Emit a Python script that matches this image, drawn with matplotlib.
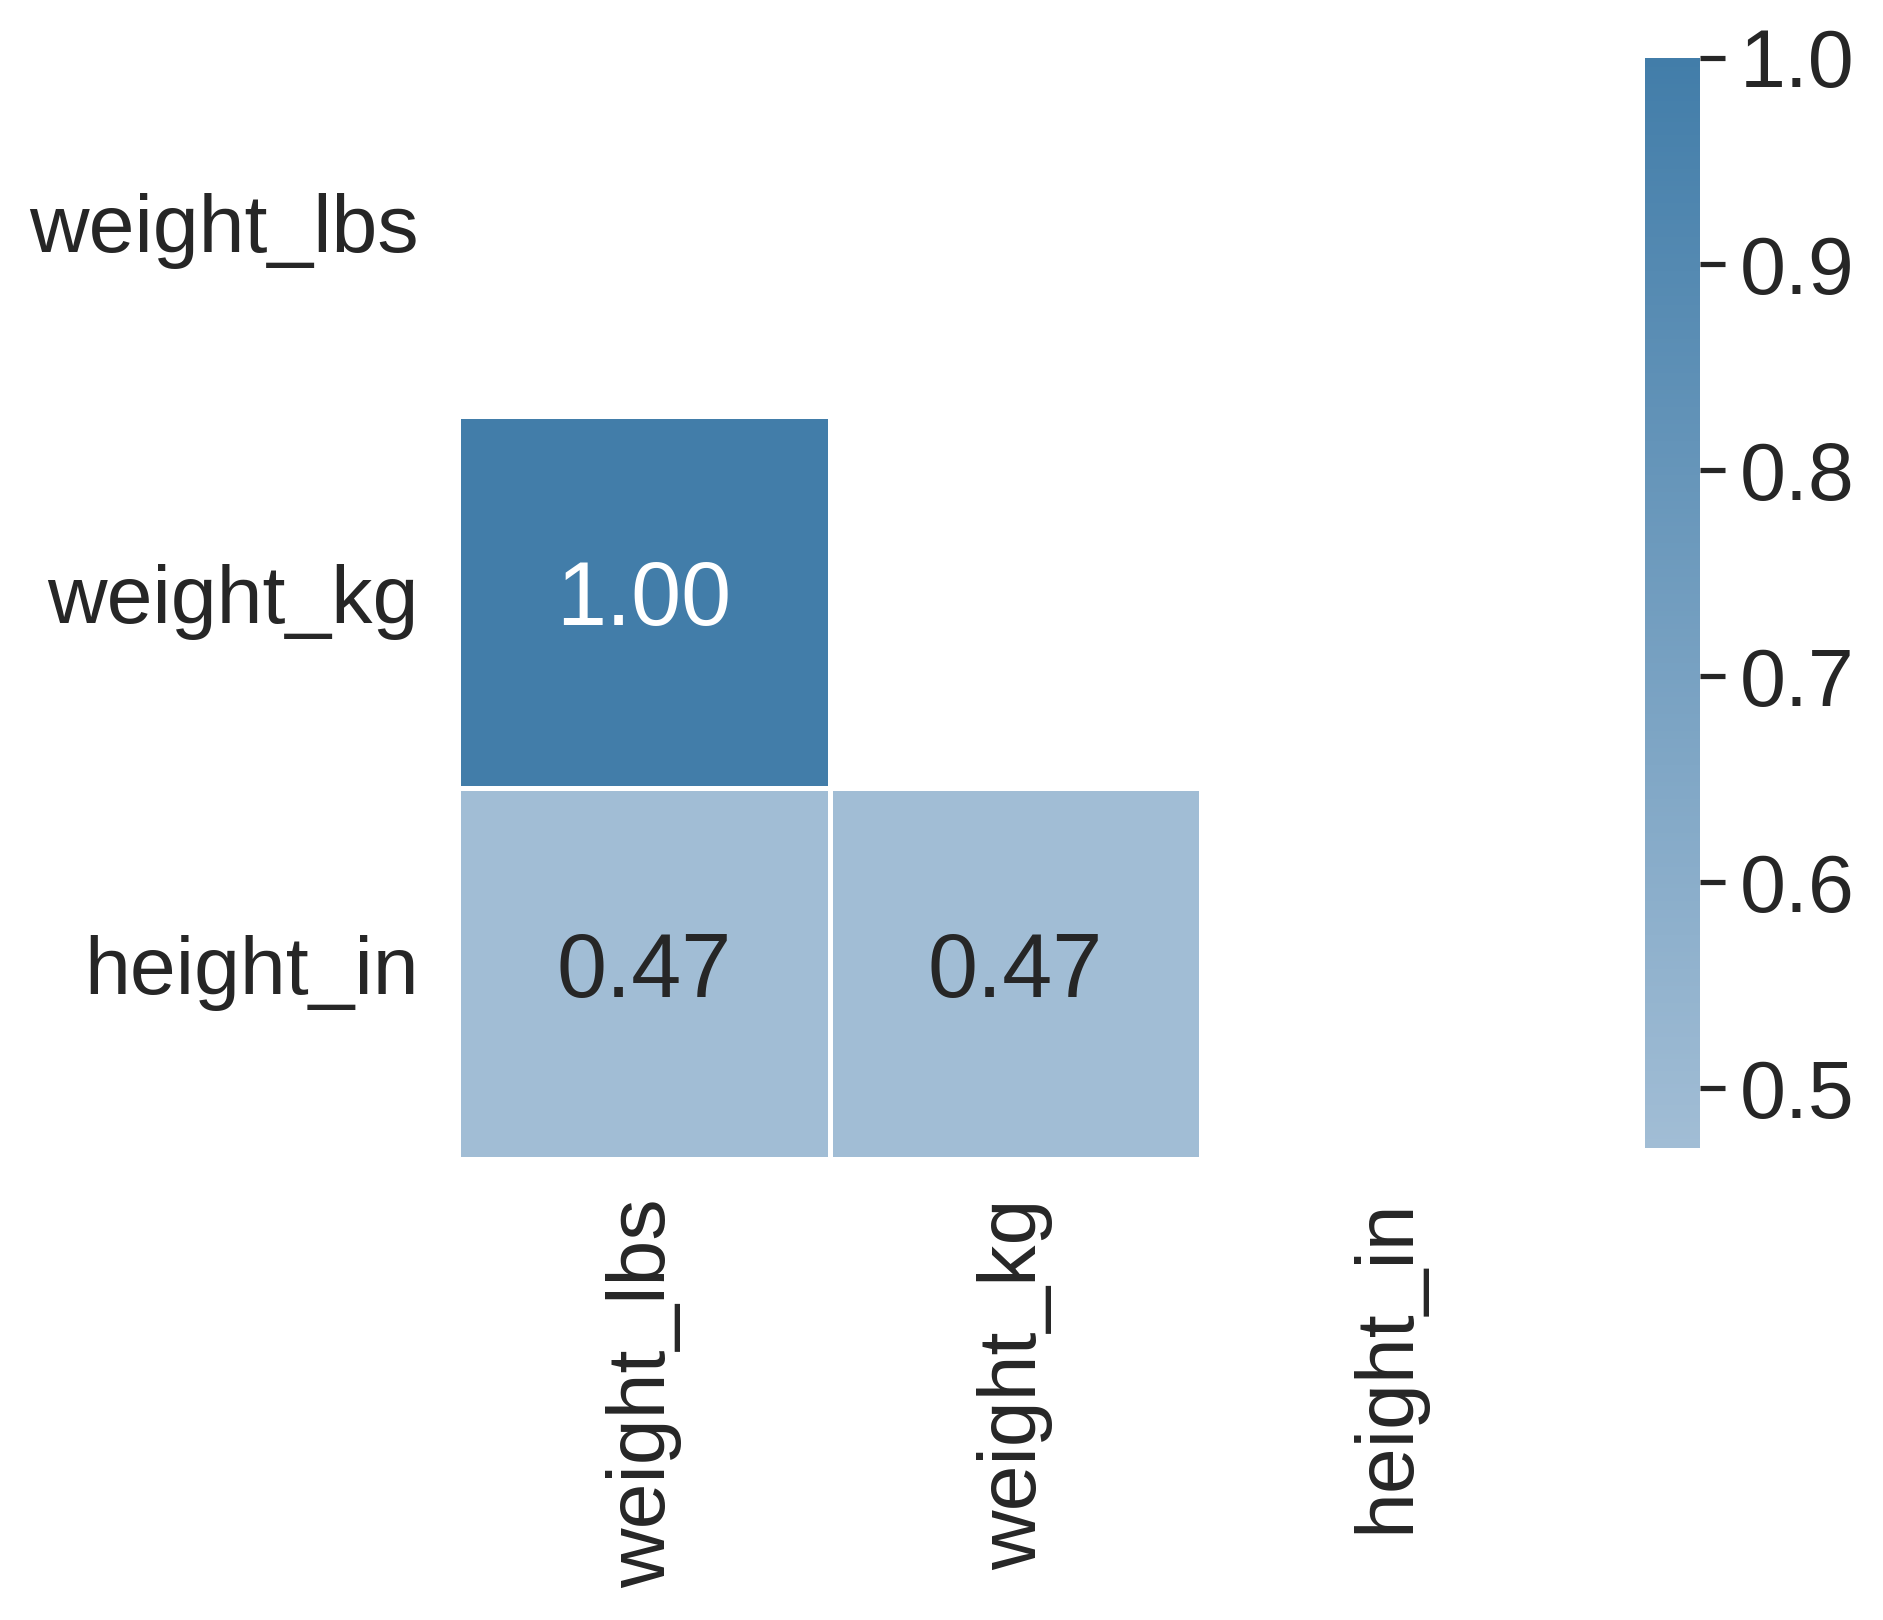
import numpy as np
import matplotlib
matplotlib.use("Agg")
import matplotlib.pyplot as plt
import seaborn as sns
from matplotlib.colors import LinearSegmentedColormap

# column names and their correlations
columns = ["weight_lbs", "weight_kg", "height_in"]
corr_values = [
    [1.000, 1.000, 0.471],
    [1.000, 1.000, 0.471],
    [0.471, 0.471, 1.000],
]
cbar_ticks = [0.5, 0.6, 0.7, 0.8, 0.9, 1.0]

sns.set(style="white", font_scale=1.8)
plt.rcParams['font.family'] = ['Liberation Sans', 'DejaVu Sans']

corr = np.array(corr_values)
# hide the upper triangle and the diagonal
mask = np.triu(np.ones_like(corr, dtype=bool))

cmap = LinearSegmentedColormap.from_list("blues_corr", ["#a1bdd5", "#427da9"])

fig = plt.figure(figsize=(1883 / 300, 1620 / 300), dpi=300)
heat_pos = [0.2432, 0.2846, 0.5922, 0.6877]
ax = fig.add_axes(heat_pos)
cax = fig.add_axes([0.8736, 0.2914, 0.0292, 0.6728])

sns.heatmap(corr, mask=mask, cmap=cmap, vmin=0.471, vmax=1.0, square=True,
            linewidths=1.2, linecolor="white", annot=True, fmt=".2f",
            annot_kws={"size": 21.6}, xticklabels=columns, yticklabels=columns,
            ax=ax, cbar_ax=cax)

ax.set_xticklabels(columns, rotation=90)
ax.set_yticklabels(columns, rotation=0)
ax.set_position(heat_pos)

cbar = ax.collections[0].colorbar
cbar.set_ticks(cbar_ticks)
cbar.ax.tick_params(length=6, width=1.25, right=True)

fig.savefig("out.png", dpi=300)
